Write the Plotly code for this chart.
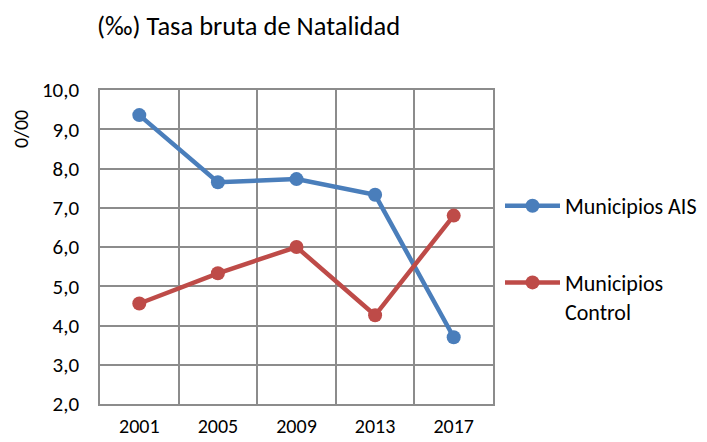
import plotly.graph_objects as go

years = ["2001", "2005", "2009", "2013", "2017"]
ais = [9.36, 7.65, 7.73, 7.33, 3.70]
control = [4.56, 5.33, 6.00, 4.26, 6.80]
y_ticks = [2, 3, 4, 5, 6, 7, 8, 9, 10]

FONT = "Carlito, Calibri, Lato, sans-serif"
BLUE = "#4A7EBB"
RED = "#BE4B48"
GRID = "#8C8C8C"

fig = go.Figure()
fig.add_trace(go.Scatter(x=years, y=ais, name="Municipios AIS", mode="lines+markers",
                         line=dict(color=BLUE, width=4.5), marker=dict(size=14, color=BLUE),
                         legendgroup="a"))
fig.add_trace(go.Scatter(x=years, y=control, name="Municipios<br>Control", mode="lines+markers",
                         line=dict(color=RED, width=4.5), marker=dict(size=14, color=RED),
                         legendgroup="b"))

fig.update_layout(
    width=707, height=442,
    margin=dict(l=92, r=222, t=82, b=46, autoexpand=False),
    paper_bgcolor="white", plot_bgcolor="white",
    separators=",.",
    font=dict(family=FONT, size=20, color="#000000"),
    title=dict(text="(‰) Tasa bruta de Natalidad", x=89/707, xanchor="left",
               y=1 - 18/442, yanchor="middle", xref="container", yref="container",
               font=dict(family=FONT, size=26.5, color="#000000")),
    legend=dict(x=492/707, xanchor="left", xref="container",
                y=1 - 177/442, yanchor="top", yref="container", valign="top",
                itemwidth=55, tracegroupgap=45,
                font=dict(family=FONT, size=22, color="#000000"),
                bgcolor="rgba(0,0,0,0)"),
    showlegend=True,
)
fig.update_xaxes(type="category", range=[-0.5, 4.5], tickson="boundaries", showgrid=True,
                 gridcolor=GRID, gridwidth=1.5, showline=True, linecolor=GRID, linewidth=1.5,
                 mirror=True, ticks="", ticklabelstandoff=3, tickfont=dict(size=20),
                 zeroline=False, automargin=False)
fig.update_yaxes(range=[2, 10], tickvals=y_ticks, tickformat=".1f", showgrid=True,
                 gridcolor=GRID, gridwidth=1.5, showline=True, linecolor=GRID, linewidth=1.5,
                 mirror=True, ticks="", ticklabelstandoff=15, tickfont=dict(size=21),
                 zeroline=False, automargin=False)
fig.add_annotation(text="0/00", xref="paper", yref="paper", x=-0.201, y=0.876,
                   xanchor="center", yanchor="middle", textangle=-90, showarrow=False,
                   font=dict(family=FONT, size=20, color="#000000"))

fig.write_html("out.html")
